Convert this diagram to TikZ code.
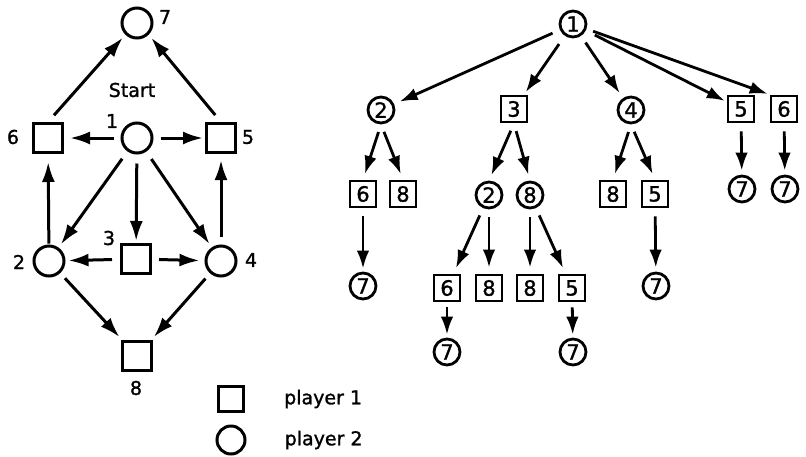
\documentclass[tikz,border=0pt]{standalone}
\usepackage{fontspec}
\setmainfont[FakeBold=1.3]{DejaVu Sans}
\usetikzlibrary{arrows.meta, positioning}

\tikzset{
    sq/.style={draw, rectangle, line width=3pt, minimum size=29pt, inner sep=0pt},
    cr/.style={draw, circle, line width=3pt, minimum size=30pt, inner sep=0pt},
    tsq/.style={sq, line width=2.8pt, minimum size=26pt, font=\fontsize{21}{24}\selectfont},
    tcr/.style={cr, line width=2.8pt, minimum size=26pt, font=\fontsize{21}{24}\selectfont},
    lbl/.style={inner sep=0pt},
    gedge/.style={-{Latex[length=20pt,width=13pt]}, line width=3pt, shorten <=7pt, shorten >=4pt},
    tedge/.style={-{Latex[length=18pt,width=12.5pt]}, line width=2.8pt, shorten <=8pt, shorten >=6pt}
}

\begin{document}
\begin{tikzpicture}[x=1pt, y=1pt, font=\fontsize{19}{22}\selectfont]
            \useasboundingbox (0,0) rectangle (806,-456);

            \node[cr] (n7) at (137,-23) {};
            \node[sq] (n6) at (48,-138) {};
            \node[cr] (n1) at (137,-138) {};
            \node[sq] (n5) at (221,-138) {};
            \node[cr] (n2) at (49,-261) {};
            \node[sq] (n3) at (136,-259) {};
            \node[cr] (n4) at (221,-261) {};
            \node[sq] (n8) at (137,-356) {};

            \node[lbl] at (165,-17) {7};
            \node[lbl] at (132,-90) {Start};
            \node[lbl] at (112,-121) {1};
            \node[lbl] at (13,-137) {6};
            \node[lbl] at (248,-137) {5};
            \node[lbl] at (19,-262) {2};
            \node[lbl] at (109,-238) {3};
            \node[lbl] at (251,-260) {4};
            \node[lbl] at (136,-388) {8};

            \draw[gedge, shorten <=9pt] (n6.north) -- (n7.-135);
            \draw[gedge, shorten <=9pt] (n5.north) -- (n7.-45);
            \draw[gedge, shorten >=6pt] (n1) -- (n6);
            \draw[gedge, shorten >=2pt] (n1) -- (n5);
            \draw[gedge, shorten <=9pt] (n1) -- (n2);
            \draw[gedge, shorten <=9pt, shorten >=2pt] (n1) -- (n3);
            \draw[gedge, shorten <=9pt] (n1) -- (n4);
            \draw[gedge, shorten <=1pt, shorten >=8pt] (n2) -- (n6);
            \draw[gedge, shorten <=8pt, shorten >=6pt] (n4) -- (n5);
            \draw[gedge, shorten <=8pt, shorten >=3pt] (n3) -- (n2);
            \draw[gedge, shorten <=7pt, shorten >=5pt] (n3) -- (n4);
            \draw[gedge] (n2) -- (n8);
            \draw[gedge] (n4) -- (n8);

            \node[sq, minimum size=25pt] (k1) at (231,-399) {};
            \node[cr, minimum size=28pt] (k2) at (231,-440) {};
            \node[lbl, right=39pt of k1] (p1) {player 1};
            \node[lbl, right=38pt of k2] (p2) {player 2};

            \node[tcr] (r1) at (573,-24) {1};
            \node[tcr] (t2) at (381,-110) {2};
            \node[tsq] (t3) at (514,-109) {3};
            \node[tcr] (t4) at (631,-110) {4};
            \node[tsq] (t5) at (741,-109) {5};
            \node[tsq] (t6) at (784,-109) {6};

            \node[tsq] (a6) at (363,-194) {6};
            \node[tsq] (a8) at (403,-194) {8};
            \node[tcr] (b2) at (489,-195) {2};
            \node[tcr] (b8) at (530,-195) {8};
            \node[tsq] (d8) at (613,-194) {8};
            \node[tsq] (d5) at (655,-194) {5};
            \node[tcr] (e7) at (742,-189) {7};
            \node[tcr] (f7) at (785,-189) {7};

            \node[tcr] (a7) at (363,-286) {7};
            \node[tsq] (c6) at (447,-288) {6};
            \node[tsq] (c8) at (489,-288) {8};
            \node[tsq] (g8) at (530,-288) {8};
            \node[tsq] (g5) at (572,-288) {5};
            \node[tcr] (d7) at (656,-286) {7};

            \node[tcr] (h7) at (447,-352) {7};
            \node[tcr] (i7) at (573,-352) {7};

            \draw[tedge] (r1) -- (t2);
            \draw[tedge, shorten <=10pt, shorten >=3pt] (r1) -- (t3);
            \draw[tedge] (r1) -- (t4);
            \draw[tedge, shorten <=10pt, shorten >=2pt] (r1) -- (t5);
            \draw[tedge, shorten <=7pt, shorten >=2pt] (r1) -- (t6.north west);

            \draw[tedge] (t2.south) -- (a6.north);
            \draw[tedge] (t2.south) -- (a8.north);
            \draw[tedge] (t3.south) -- (b2.north);
            \draw[tedge] (t3.south) -- (b8.north);
            \draw[tedge] (t4.south) -- (d8.north);
            \draw[tedge] (t4.south) -- (d5.north);
            \draw[tedge, shorten >=4pt] (t5) -- (e7);
            \draw[tedge, shorten >=4pt] (t6) -- (f7);

            \draw[tedge, shorten >=3pt] (a6) -- (a7);
            \draw[tedge] (b2) -- (c6);
            \draw[tedge] (b2) -- (c8);
            \draw[tedge] (b8) -- (g8);
            \draw[tedge] (b8) -- (g5);
            \draw[tedge, shorten >=4pt] (d5) -- (d7);
            \draw[tedge, shorten <=5pt, shorten >=3pt] (c6) -- (h7);
            \draw[tedge, shorten <=5pt, shorten >=3pt] (g5) -- (i7);
        \end{tikzpicture}
\end{document}
